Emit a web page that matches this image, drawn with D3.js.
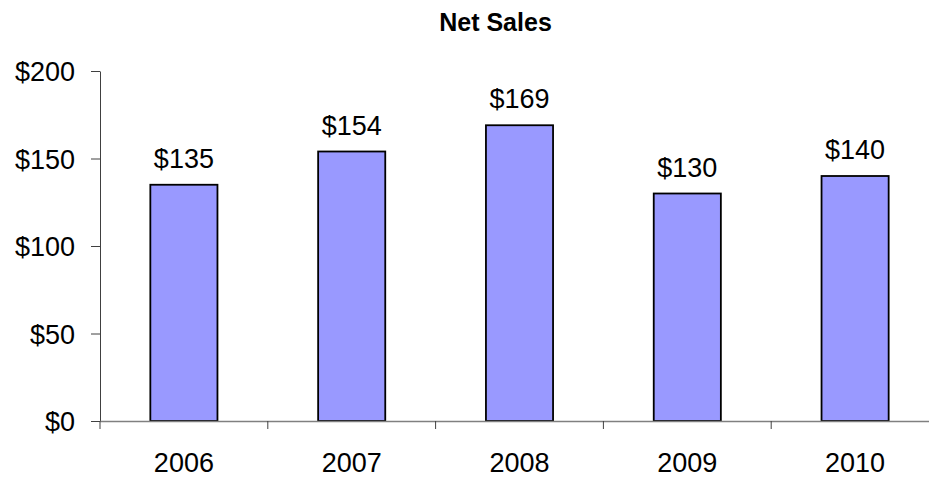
<!DOCTYPE html>
<html lang="en">
<head>
    <meta charset="UTF-8">
    <title>Net Sales</title>
    <script src="https://d3js.org/d3.v7.min.js"></script>
    <style>
        body { margin: 0; background: #ffffff; font-family: 'Liberation Sans', Arial, sans-serif; }
        .axis path, .axis line { stroke: #404040; }
        .axis text { fill: #000; font-family: 'Liberation Sans', Arial, sans-serif; }
    </style>
</head>
<body>
    <div id="chart"></div>
    <script>
        // data
        const years = ['2006', '2007', '2008', '2009', '2010'];
        const netSales = [135, 154, 169, 130, 140];
        const yTicks = [0, 50, 100, 150, 200];

        const W = 929, H = 479;
        const margin = { top: 71, left: 100, bottom: 58, right: -10 };
        const plotBottom = H - margin.bottom; // 421

        const svg = d3.select('#chart').append('svg')
            .attr('width', W).attr('height', H);

        const x = d3.scaleBand()
            .domain(years)
            .range([margin.left, W - margin.right])
            .paddingInner(0.6)
            .paddingOuter(0.3);

        const y = d3.scaleLinear()
            .domain([0, 200])
            .range([plotBottom, margin.top]);

        // title
        svg.append('text')
            .attr('x', 495.5).attr('y', 31)
            .attr('text-anchor', 'middle')
            .style('font-size', '25px').style('font-weight', 'bold')
            .text('Net Sales');

        // y axis
        const yAxis = svg.append('g').attr('class', 'axis')
            .attr('transform', `translate(${margin.left},0)`)
            .call(d3.axisLeft(y).tickValues(yTicks).tickSize(9).tickPadding(16).tickSizeOuter(0)
                .tickFormat(d => '$' + d));
        yAxis.selectAll('text').style('font-size', '27px').attr('dy', '0.36em');

        // bars
        svg.selectAll('.bar').data(netSales).enter().append('rect')
            .attr('class', 'bar')
            .attr('x', (d, i) => x(years[i]))
            .attr('width', x.bandwidth())
            .attr('y', d => y(d))
            .attr('height', d => plotBottom - y(d))
            .attr('fill', '#9999ff')
            .attr('stroke', '#000')
            .attr('stroke-width', 1.8);

        // value labels
        svg.selectAll('.val').data(netSales).enter().append('text')
            .attr('class', 'val')
            .attr('x', (d, i) => x(years[i]) + x.bandwidth() / 2)
            .attr('y', d => y(d) - 17)
            .attr('text-anchor', 'middle')
            .style('font-size', '27px')
            .text(d => '$' + d);

        // x axis: labels + boundary ticks
        const xAxis = svg.append('g').attr('class', 'axis')
            .attr('transform', `translate(0,${plotBottom})`)
            .call(d3.axisBottom(x).tickSize(0).tickPadding(32));
        xAxis.selectAll('text').style('font-size', '27px');
        xAxis.select('.domain').remove();

        const bounds = d3.range(years.length + 1).map(i => x.range()[0] + i * x.step());
        xAxis.append('line')
            .attr('x1', x.range()[0]).attr('x2', x.range()[1])
            .attr('y1', 0.5).attr('y2', 0.5)
            .style('stroke', '#808080').attr('stroke-width', 1.5);
        xAxis.selectAll('.btick').data(bounds).enter().append('line')
            .attr('class', 'btick')
            .attr('x1', d => d).attr('x2', d => d)
            .attr('y1', 0).attr('y2', 8);
    </script>
</body>
</html>
